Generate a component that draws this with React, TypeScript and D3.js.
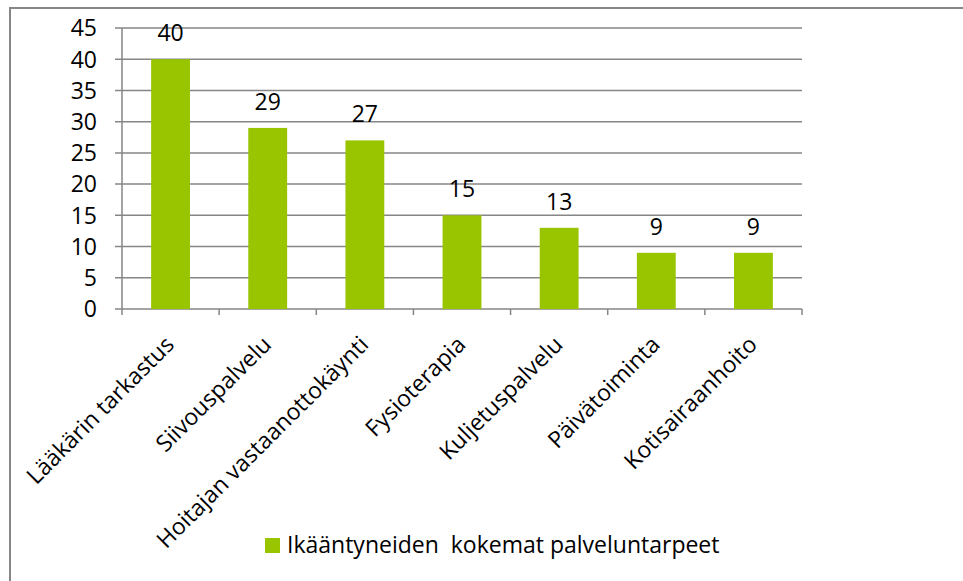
import React from "react";
import * as d3 from "d3";

const categories = [
  "Lääkärin tarkastus",
  "Siivouspalvelu",
  "Hoitajan vastaanottokäynti",
  "Fysioterapia",
  "Kuljetuspalvelu",
  "Päivätoiminta",
  "Kotisairaanhoito",
];
const values = [40, 29, 27, 15, 13, 9, 9];
const yTicks = [0, 5, 10, 15, 20, 25, 30, 35, 40, 45];
const seriesName = "Ikääntyneiden  kokemat palveluntarpeet";

const W = 963;
const H = 581;
const FONT = "'Open Sans', Lato, sans-serif";
const AXIS = "#868686";
const BAR = "#98C400";
const FS = 23;

export default function App() {
  const left = 122;
  const right = 802;
  const top = 28;
  const bottom = 309;

  const x = d3.scaleBand<string>().domain(categories).range([left, right]).paddingInner(0).paddingOuter(0);
  const y = d3.scaleLinear().domain([0, 45]).range([bottom, top]);
  const bw = x.bandwidth();
  const barW = bw * 0.4;
  const boundaries = d3.range(categories.length + 1).map((i) => left + i * bw);

  return (
    <svg
      width={W}
      height={H}
      style={{ position: "absolute", left: 0, top: 0, background: "#fff" }}
      fontFamily={FONT}
    >
      <rect x={10} y={8} width={1000} height={1000} fill="#fff" stroke={AXIS} strokeWidth={2} />

      {/* gridlines */}
      {yTicks.map((t) => (
        <line key={"g" + t} x1={left - 7} x2={right} y1={y(t)} y2={y(t)} stroke={AXIS} strokeWidth={1.5} />
      ))}
      {/* y axis */}
      <line x1={left} x2={left} y1={top} y2={bottom} stroke={AXIS} strokeWidth={1.5} />
      {/* x axis ticks */}
      {boundaries.map((b, i) => (
        <line key={"xt" + i} x1={b} x2={b} y1={bottom} y2={bottom + 6} stroke={AXIS} strokeWidth={1.5} />
      ))}

      {/* y labels */}
      {yTicks.map((t) => (
        <text key={"yl" + t} x={97} y={y(t)} dy="0.36em" textAnchor="end" fontSize={FS} fill="#000">
          {t}
        </text>
      ))}

      {/* bars */}
      {categories.map((c, i) => (
        <rect
          key={"b" + c}
          x={(x(c) as number) + (bw - barW) / 2}
          y={y(values[i])}
          width={barW}
          height={bottom - y(values[i])}
          fill={BAR}
        />
      ))}

      {/* value labels */}
      {categories.map((c, i) => (
        <text
          key={"v" + c}
          x={(x(c) as number) + bw / 2}
          y={y(values[i]) - 18}
          textAnchor="middle"
          fontSize={FS}
          fill="#000"
        >
          {values[i]}
        </text>
      ))}

      {/* category labels */}
      {categories.map((c) => {
        const cx = (x(c) as number) + bw / 2;
        return (
          <text
            key={"c" + c}
            transform={`translate(${cx + 5},${bottom + 37}) rotate(-45)`}
            textAnchor="end"
            fontSize={FS}
            fill="#000"
          >
            {c}
          </text>
        );
      })}

      {/* legend */}
      <rect x={265} y={538} width={15} height={15} fill={BAR} />
      <text x={287} y={553} fontSize={FS} fill="#000" style={{ whiteSpace: "pre" }} xmlSpace="preserve">
        {seriesName}
      </text>
    </svg>
  );
}
